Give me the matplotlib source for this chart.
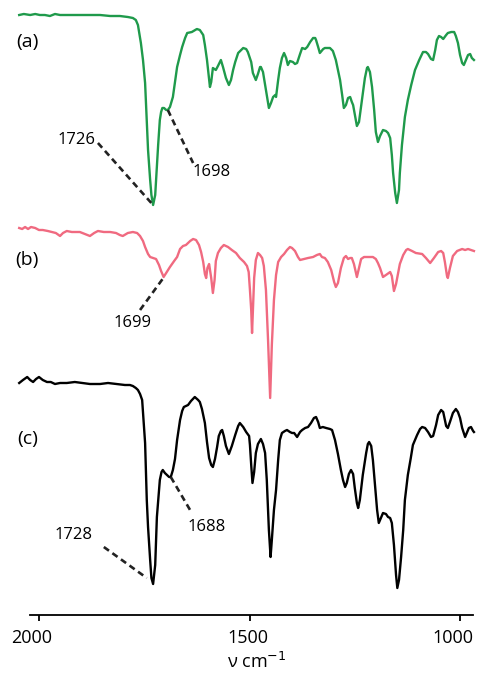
import matplotlib
matplotlib.use("Agg")
import matplotlib.pyplot as plt
import matplotlib.transforms as mtransforms

plt.rcParams['font.family'] = ['Open Sans', 'DejaVu Sans']

# ---------------- data (wavenumber in cm-1, relative transmittance in a.u.) ----------------
wn_a = [2047, 2036, 2021, 2009, 1998, 1986, 1974, 1962, 1950, 1926, 1903, 1879, 1855, 1831, 1808, 1789,
        1777, 1770, 1765, 1758, 1753, 1748, 1741, 1736, 1733, 1729, 1724, 1720, 1717, 1713, 1710, 1707,
        1703, 1698, 1694, 1689, 1682, 1677, 1672, 1665, 1660, 1653, 1648, 1637, 1625, 1618, 1610, 1606,
        1601, 1596, 1594, 1591, 1587, 1580, 1575, 1568, 1563, 1556, 1549, 1544, 1539, 1534, 1527, 1515,
        1508, 1504, 1496, 1492, 1485, 1480, 1475, 1473, 1468, 1461, 1454, 1449, 1444, 1439, 1437, 1432,
        1428, 1423, 1418, 1413, 1409, 1404, 1397, 1392, 1387, 1380, 1375, 1368, 1363, 1356, 1349, 1344,
        1342, 1337, 1333, 1325, 1321, 1309, 1302, 1295, 1290, 1285, 1280, 1276, 1271, 1266, 1261, 1257,
        1254, 1249, 1245, 1240, 1233, 1226, 1221, 1219, 1214, 1209, 1204, 1200, 1195, 1190, 1183, 1176,
        1171, 1166, 1162, 1159, 1154, 1150, 1145, 1143, 1138, 1135, 1131, 1124, 1116, 1107, 1097, 1088,
        1081, 1076, 1069, 1064, 1059, 1055, 1050, 1045, 1040, 1033, 1029, 1021, 1014, 1010, 1005, 1000,
        995, 991, 986, 981, 976, 972, 967]
t_a = [250, 251, 250, 251, 250, 250, 249, 251, 250, 250, 250, 250, 250, 249, 249, 248,
       247, 245, 240, 222, 205, 182, 115, 85, 70, 60, 70, 98, 120, 145, 153, 157,
       157, 155, 155, 158, 168, 183, 198, 210, 218, 227, 232, 233, 236, 235, 230, 220,
       205, 185, 178, 183, 197, 195, 199, 205, 198, 187, 180, 185, 195, 203, 212, 217,
       216, 213, 203, 192, 185, 191, 198, 198, 193, 175, 157, 162, 168, 170, 168, 185,
       197, 207, 212, 207, 200, 204, 203, 201, 202, 211, 217, 216, 218, 223, 227, 227,
       225, 218, 212, 216, 217, 217, 214, 205, 195, 185, 170, 157, 160, 167, 168, 163,
       160, 148, 139, 143, 165, 187, 197, 198, 193, 178, 155, 133, 123, 129, 135, 134,
       132, 127, 110, 92, 72, 62, 75, 92, 120, 132, 148, 165, 180, 195, 205, 213,
       213, 211, 206, 205, 215, 225, 229, 228, 226, 230, 232, 233, 233, 229, 222, 210,
       202, 200, 205, 210, 211, 207, 205]

wn_b = [2047, 2040, 2033, 2026, 2019, 2009, 2000, 1991, 1979, 1969, 1960, 1950, 1943, 1934, 1922, 1912,
        1903, 1891, 1879, 1869, 1860, 1846, 1831, 1817, 1808, 1801, 1789, 1777, 1767, 1760, 1753, 1748,
        1741, 1736, 1729, 1722, 1715, 1710, 1704, 1698, 1689, 1679, 1672, 1665, 1658, 1651, 1641, 1634,
        1627, 1620, 1615, 1610, 1606, 1603, 1600, 1596, 1591, 1587, 1583, 1580, 1575, 1568, 1561, 1551,
        1542, 1532, 1523, 1513, 1506, 1502, 1499, 1496, 1494, 1492, 1489, 1485, 1480, 1475, 1470, 1466,
        1461, 1456, 1451, 1447, 1442, 1437, 1432, 1425, 1418, 1411, 1404, 1399, 1392, 1385, 1380, 1371,
        1361, 1349, 1340, 1333, 1328, 1321, 1314, 1306, 1299, 1295, 1290, 1283, 1276, 1271, 1266, 1261,
        1257, 1252, 1245, 1240, 1235, 1228, 1219, 1207, 1200, 1195, 1190, 1183, 1176, 1166, 1162, 1157,
        1152, 1147, 1143, 1135, 1128, 1124, 1114, 1105, 1090, 1081, 1071, 1062, 1052, 1045, 1040, 1036,
        1031, 1029, 1024, 1017, 1007, 995, 988, 981, 974, 967]
t_b = [250, 249, 251, 249, 251, 250, 248, 248, 247, 246, 245, 242, 245, 247, 246, 246,
       246, 244, 242, 245, 247, 246, 246, 245, 243, 242, 245, 246, 245, 242, 237, 231,
       224, 221, 220, 219, 213, 207, 201, 205, 211, 217, 221, 229, 232, 233, 237, 239,
       238, 233, 226, 216, 204, 200, 210, 214, 200, 185, 198, 217, 225, 230, 233, 231,
       228, 225, 220, 216, 212, 206, 188, 168, 145, 168, 200, 218, 225, 223, 220, 212,
       188, 138, 80, 133, 178, 203, 216, 221, 224, 228, 231, 230, 227, 221, 218, 219,
       220, 221, 223, 224, 221, 220, 216, 208, 196, 191, 195, 210, 220, 222, 219, 220,
       220, 214, 201, 210, 219, 221, 221, 221, 219, 215, 210, 201, 203, 206, 202, 187,
       194, 205, 214, 223, 228, 229, 227, 225, 224, 220, 215, 220, 226, 227, 225, 216,
       202, 200, 210, 222, 227, 229, 228, 229, 228, 227]

wn_c = [2047, 2038, 2028, 2021, 2014, 2007, 2000, 1991, 1981, 1972, 1962, 1950, 1934, 1915, 1896, 1879,
        1855, 1836, 1815, 1796, 1784, 1777, 1770, 1765, 1760, 1755, 1751, 1748, 1744, 1741, 1736, 1733,
        1729, 1724, 1720, 1715, 1713, 1709, 1706, 1701, 1696, 1691, 1687, 1682, 1677, 1672, 1665, 1660,
        1656, 1646, 1639, 1630, 1622, 1618, 1613, 1606, 1601, 1596, 1591, 1587, 1582, 1577, 1573, 1568,
        1565, 1561, 1556, 1549, 1542, 1534, 1527, 1523, 1515, 1508, 1501, 1499, 1496, 1493, 1489, 1485,
        1480, 1473, 1468, 1463, 1459, 1454, 1450, 1447, 1442, 1437, 1432, 1428, 1423, 1416, 1411, 1404,
        1399, 1394, 1387, 1380, 1375, 1368, 1361, 1354, 1347, 1342, 1337, 1333, 1326, 1318, 1309, 1304,
        1297, 1290, 1283, 1278, 1273, 1269, 1264, 1259, 1254, 1250, 1245, 1242, 1238, 1231, 1223, 1219,
        1216, 1211, 1207, 1202, 1197, 1193, 1188, 1183, 1176, 1171, 1166, 1162, 1157, 1152, 1149, 1145,
        1140, 1135, 1131, 1124, 1117, 1112, 1102, 1095, 1090, 1083, 1076, 1069, 1064, 1057, 1052, 1045,
        1040, 1033, 1029, 1024, 1017, 1010, 1005, 1000, 995, 988, 983, 979, 974, 969, 967]
t_c = [250, 253, 256, 253, 251, 254, 256, 253, 251, 251, 249, 250, 250, 251, 250, 249,
       249, 250, 249, 248, 248, 247, 245, 243, 239, 233, 208, 190, 133, 106, 73, 55,
       49, 68, 116, 143, 153, 161, 163, 160, 158, 156, 156, 163, 174, 193, 213, 222,
       226, 228, 232, 236, 233, 231, 224, 210, 191, 175, 168, 166, 174, 186, 197, 202,
       203, 197, 187, 179, 187, 198, 207, 210, 206, 201, 197, 188, 168, 150, 161, 180,
       189, 194, 189, 180, 153, 103, 76, 93, 123, 143, 173, 193, 200, 202, 203, 201,
       200, 200, 196, 201, 203, 205, 206, 210, 215, 216, 211, 205, 206, 205, 204, 203,
       193, 179, 163, 153, 146, 150, 159, 163, 159, 145, 130, 125, 133, 158, 180, 189,
       191, 187, 173, 148, 123, 110, 115, 120, 119, 116, 115, 110, 88, 58, 45, 53,
       76, 103, 133, 158, 175, 188, 198, 204, 206, 205, 201, 196, 197, 208, 218, 223,
       221, 207, 205, 211, 220, 224, 221, 215, 205, 196, 201, 205, 206, 202, 201]

panel_labels = ['(a)', '(b)', '(c)']
peak_labels_a = ['1726', '1698']
peak_labels_b = ['1699']
peak_labels_c = ['1728', '1688']
tick_values = [2000, 1500, 1000]
xlabel = 'ν cm$^{-1}$'

# ---------------- layout ----------------
W, H = 479, 673
fig = plt.figure(figsize=(W / 100, H / 100), dpi=100)
ax = fig.add_axes([0, 58 / H, 1, 615 / H])

off = {'a': 0, 'b': -213, 'c': -368}
green, pink = '#1f9a4b', '#f06a80'

ax.plot(wn_a, [v + off['a'] for v in t_a], color=green, lw=1.7, solid_joinstyle='round')
ax.plot(wn_b, [v + off['b'] for v in t_b], color=pink, lw=1.7, solid_joinstyle='round')
ax.plot(wn_c, [v + off['c'] for v in t_c], color='black', lw=1.7, solid_joinstyle='round')

ax.set_xlim(2092.6, 955.0)
ax.set_ylim(-350, 265)

for s in ['left', 'right', 'top']:
    ax.spines[s].set_visible(False)
ax.spines['bottom'].set_bounds(2021, 969)
ax.spines['bottom'].set_linewidth(1.3)
ax.set_yticks([])
ax.set_xticks(tick_values)
ax.set_xticklabels([str(t) for t in tick_values], fontsize=13)
ax.tick_params(axis='x', direction='out', length=4, width=1.3, pad=6)
for lbl, dx in zip(ax.get_xticklabels(), [-7, -2, -7]):
    lbl.set_transform(lbl.get_transform() +
                      mtransforms.ScaledTranslation(dx / 100, 0, fig.dpi_scale_trans))

# panel labels
for lab, yv in zip(panel_labels, [223, 5, -174]):
    ax.text(2028, yv, lab, fontsize=14, ha='center', va='center')

dash = dict(color='#222222', lw=1.9, linestyle=(0, (2.4, 1.6)))
fs = 12
# (a)
ax.plot([1860, 1729], [122, 60], **dash)
ax.text(1910, 125, peak_labels_a[0], fontsize=fs, ha='center', va='center')
ax.plot([1694, 1634], [155, 102], **dash)
ax.text(1589, 93, peak_labels_a[1], fontsize=fs, ha='center', va='center')
# (b)
ax.plot([1760, 1703], [-45, -12], **dash)
ax.text(1777, -58, peak_labels_b[0], fontsize=fs, ha='center', va='center')
# (c)
ax.plot([1846, 1744], [-282, -313], **dash)
ax.text(1919, -270, peak_labels_c[0], fontsize=fs, ha='center', va='center')
ax.plot([1687, 1637], [-212, -248], **dash)
ax.text(1601, -262, peak_labels_c[1], fontsize=fs, ha='center', va='center')

fig.text(257 / W, 5 / H, xlabel, fontsize=13, ha='center', va='baseline')

fig.savefig('out.png', dpi=100)
